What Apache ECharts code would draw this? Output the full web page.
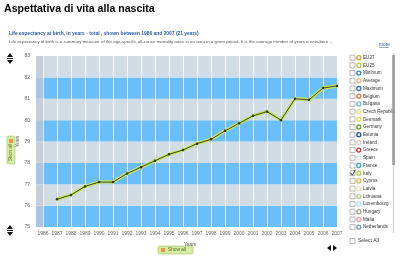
<!DOCTYPE html>
<html><head><meta charset="utf-8">
<script src="https://cdn.jsdelivr.net/npm/echarts/dist/echarts.min.js"></script>
<style>html,body{margin:0;padding:0;background:#fff}#c{width:400px;height:258px}</style>
</head><body><div id="c"></div>
<script>
const years = ['1986','1987','1988','1989','1990','1991','1992','1993','1994','1995','1996','1997','1998','1999','2000','2001','2002','2003','2004','2005','2006','2007'];
const italy = [null,76.3,76.5,76.9,77.1,77.1,77.5,77.8,78.1,78.4,78.6,78.9,79.1,79.5,79.85,80.2,80.4,80.0,81.0,80.95,81.5,81.6];
const legendNames = ['EU27','EU25','Minimum','Average','Maximum','Belgium','Bulgaria','Czech Republic','Denmark','Germany','Estonia','Ireland','Greece','Spain','France','Italy','Cyprus','Latvia','Lithuania','Luxembourg','Hungary','Malta','Netherlands'];
const legendColors = ['#e8a030','#c0c840','#4080c0','#f0b080','#3870b0','#e07040','#70b8e0','#eee080','#e8d850','#70a830','#1850a0','#f4c8b8','#c83030','#e4e4e4','#40a8b8','#b8c848','#e8b050','#f0e0c8','#a8d888','#b0e8e8','#a8a098','#e898a8','#7098c8'];
const checkedName = 'Italy';
const titleText = 'Aspettativa di vita alla nascita';
const subTitle = 'Life expectancy at birth, in years - total , shown between 1986 and 2007 (21 years)';
const descText = 'Life expectancy at birth is a summary measure of the age-specific all-cause mortality rates in an area in a given period. It is the average number of years a new-born ...';

const FF = 'Liberation Sans, Arial, sans-serif';
const chart = echarts.init(document.getElementById('c'));
const g = [];
g.push({type:'text', x:4, y:4, style:{text:titleText, font:'bold 10.6px '+FF, fill:'#000'}});
g.push({type:'text', x:9, y:31, style:{text:subTitle, font:'bold 4.9px '+FF, fill:'#2a5caa'}});
g.push({type:'text', x:9, y:40, style:{text:descText, font:'4.4px '+FF, fill:'#555'}});
g.push({type:'text', x:379, y:42, style:{text:'more', font:'4.8px '+FF, fill:'#2a5caa'}});
g.push({type:'line', shape:{x1:379,y1:47.5,x2:389,y2:47.5}, style:{stroke:'#2a5caa', lineWidth:0.5}});
// legend
legendNames.forEach((n,i)=>{
  const y = 57.7 + i*7.7;
  g.push({type:'rect', shape:{x:350,y:y-2.5,width:5,height:5}, style:{fill:'#fff', stroke:'#8a8a8a', lineWidth:0.6}});
  if (n === checkedName) g.push({type:'polyline', shape:{points:[[350.5,y-0.5],[352.3,y+2],[355.5,y-3.5]]}, style:{stroke:'#222', lineWidth:0.9, fill:null}});
  g.push({type:'circle', shape:{cx:358.8,cy:y,r:2}, style:{fill:'#fff', stroke:legendColors[i], lineWidth:1.3}});
  g.push({type:'text', x:363, y:y-2.4, style:{text:n, font:'4.6px '+FF, fill:'#333'}});
});
g.push({type:'rect', shape:{x:350,y:238.5,width:5,height:5}, style:{fill:'#fff', stroke:'#8a8a8a', lineWidth:0.6}});
g.push({type:'text', x:358, y:238.6, style:{text:'Select All', font:'5px '+FF, fill:'#333'}});
g.push({type:'line', shape:{x1:393.5,y1:53,x2:393.5,y2:233}, style:{stroke:'#d6d6d6', lineWidth:1.5}});
g.push({type:'rect', shape:{x:392.3,y:55,width:2.5,height:110}, style:{fill:'#9a9a9a'}});
// up/down arrows
function updown(y0){
  g.push({type:'polygon', shape:{points:[[7,y0+4],[13,y0+4],[10,y0]]}, style:{fill:'#111'}});
  g.push({type:'rect', shape:{x:7,y:y0+5,width:6,height:0.9}, style:{fill:'#111'}});
  g.push({type:'polygon', shape:{points:[[7,y0+7],[13,y0+7],[10,y0+11]]}, style:{fill:'#111'}});
}
updown(53); updown(225);
// left vertical button
g.push({type:'rect', shape:{x:7,y:136,width:8,height:28,r:1.5}, style:{fill:'#d6eca2', stroke:'#a2c25e', lineWidth:0.6}});
g.push({type:'rect', shape:{x:9,y:139,width:4,height:4}, style:{fill:'#e59a3a'}});
g.push({type:'text', x:11, y:161, rotation:Math.PI/2, style:{text:'Show all', font:'4.5px '+FF, fill:'#5a6a30', verticalAlign:'middle'}});
// bottom button
g.push({type:'rect', shape:{x:158,y:246,width:35,height:8,r:1.5}, style:{fill:'#d6eca2', stroke:'#a2c25e', lineWidth:0.6}});
g.push({type:'rect', shape:{x:161,y:248,width:4,height:4}, style:{fill:'#e59a3a'}});
g.push({type:'text', x:168, y:247.6, style:{text:'Show all', font:'4.8px '+FF, fill:'#5a6a30'}});
// left/right arrows
g.push({type:'polygon', shape:{points:[[331,245],[331,251],[327,248]]}, style:{fill:'#111'}});
g.push({type:'polygon', shape:{points:[[333,245],[333,251],[337,248]]}, style:{fill:'#111'}});

chart.setOption({
  animation:false,
  textStyle:{fontFamily:FF},
  grid:[{left:43,right:63,top:56,bottom:31},{left:36,width:7,top:56,bottom:31}],
  xAxis:[
    {gridIndex:0,type:'category',data:years,boundaryGap:false,
     axisLine:{show:false},axisTick:{show:false},
     axisLabel:{fontSize:5,color:'#666',margin:4,interval:0},
     splitLine:{show:true,interval:0,lineStyle:{color:'#ffffff',width:1,opacity:0.75}},
     name:'Years',nameLocation:'middle',nameGap:15,nameTextStyle:{fontSize:5,color:'#555'}},
    {gridIndex:1,type:'value',show:false,min:0,max:1}
  ],
  yAxis:[
    {gridIndex:0,type:'value',min:75,max:83,interval:1,axisLabel:{show:false},axisLine:{show:false},axisTick:{show:false},splitLine:{show:false},
     splitArea:{show:true,areaStyle:{color:['#6bbff8','#d2dce5']}}},
    {gridIndex:1,type:'value',min:75,max:83,interval:1,axisLine:{show:false},axisTick:{show:false},splitLine:{show:false},
     axisLabel:{fontSize:5,color:'#666',margin:6},
     splitArea:{show:true,areaStyle:{color:['#a8c6e4','#c5cfd9']}},
     name:'Years',nameLocation:'middle',nameGap:13,nameRotate:90,nameTextStyle:{fontSize:4.6,color:'#555'}}
  ],
  series:[
    {type:'line',data:italy,xAxisIndex:0,yAxisIndex:0,showSymbol:false,silent:true,lineStyle:{color:'#c8e26c',width:3.5}},
    {type:'line',data:italy,xAxisIndex:0,yAxisIndex:0,symbol:'circle',symbolSize:2.5,silent:true,itemStyle:{color:'#2c3a12'},lineStyle:{color:'#3a4a1c',width:1}}
  ],
  graphic:g
});
</script></body></html>
